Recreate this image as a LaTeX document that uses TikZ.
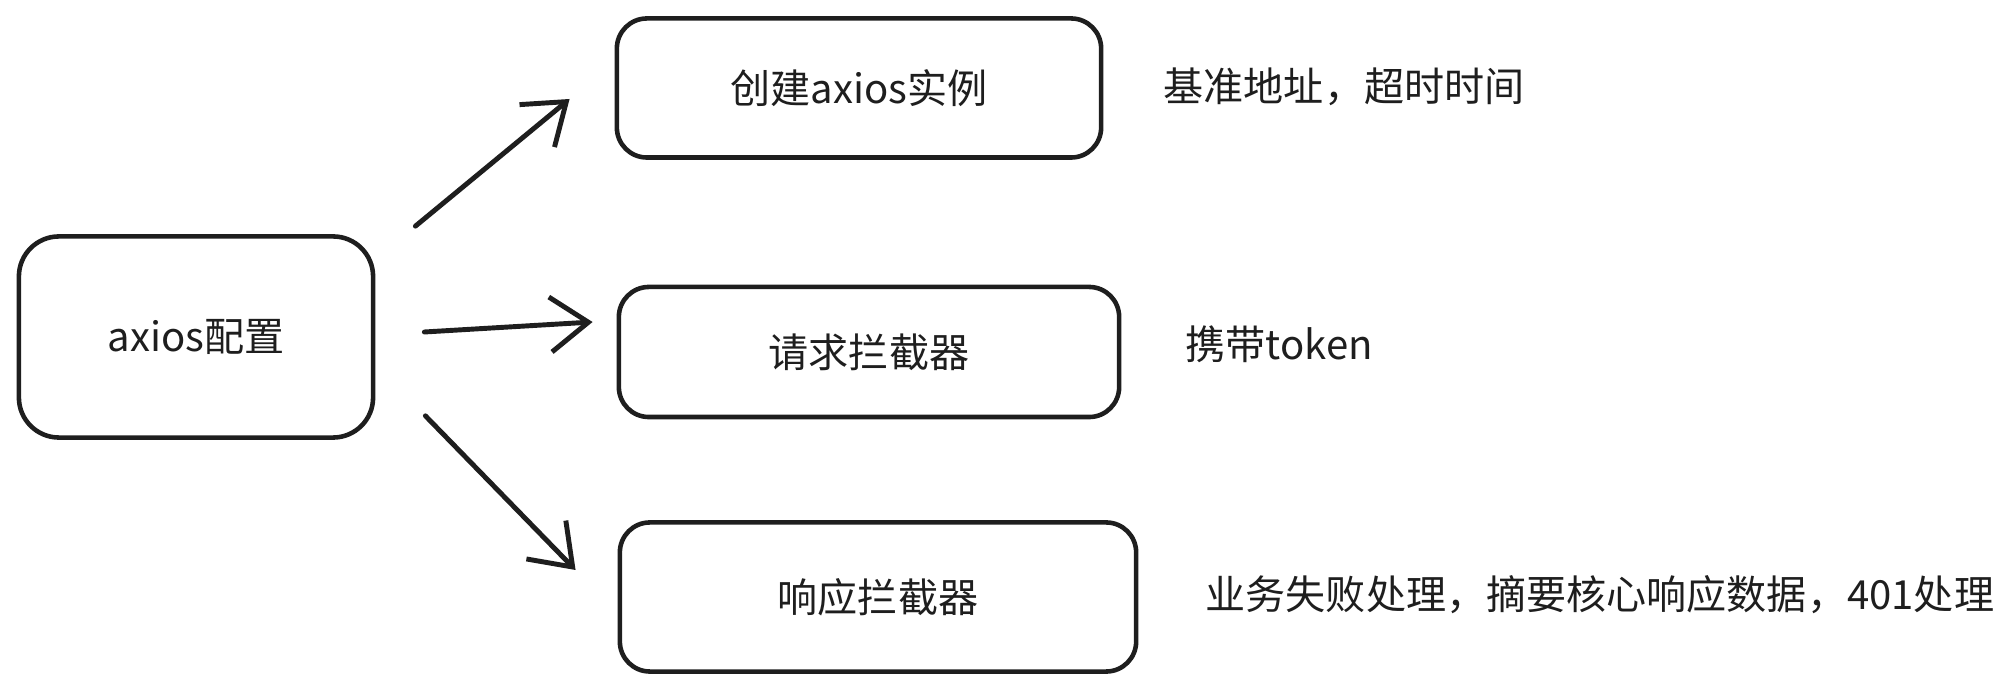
\documentclass[tikz,border=0pt]{standalone}
\usepackage{fontspec}
\setmainfont{Noto Sans CJK SC}
\usetikzlibrary{arrows.meta,positioning}
\definecolor{SketchInk}{HTML}{1E1E1E}

\begin{document}
\begin{tikzpicture}[x=0.01cm, y=-0.01cm, font=\fontsize{11.4}{13}\selectfont,
  box/.style={draw=SketchInk, line width=1.3pt, rounded corners=3mm, text=SketchInk},
  arr/.style={draw=SketchInk, line width=1.4pt, line cap=round,
    -{Straight Barb[length=3.8mm,width=5.5mm,line width=1.4pt]}},
  note/.style={text=SketchInk, anchor=west, inner sep=0pt}]
  \useasboundingbox (0,0) rectangle (2010,692);
  % the config box
  \node[box, minimum width=3.54cm, minimum height=2.01cm, rounded corners=4mm] (cfg) at (196,337) {axios配置};
  % the three parts
  \node[box, minimum width=4.84cm, minimum height=1.39cm] (inst) at (859,88) {创建axios实例};
  \node[box, minimum width=5.00cm, minimum height=1.30cm] (req) at (869,352) {请求拦截器};
  \node[box, minimum width=5.16cm, minimum height=1.49cm] (resp) at (878,597) {响应拦截器};
  % arrows
  \draw[arr] ([shift={(40,-8)}]cfg.north east) -- ([shift={(-45,11)}]inst.west);
  \draw[arr] ([shift={(49,-5)}]cfg.east) -- ([shift={(-24,-30)}]req.west);
  \draw[arr] ([shift={(50,-24)}]cfg.south east) -- ([shift={(-42,-27)}]resp.west);
  % notes
  \node[note] (instnote) at (1163,87) {基准地址，超时时间};
  \node[note] (reqnote) at (1185,344) {携带token};
  \node[note] (respnote) at (1205,595) {业务失败处理，摘要核心响应数据，401处理};
\end{tikzpicture}
\end{document}
